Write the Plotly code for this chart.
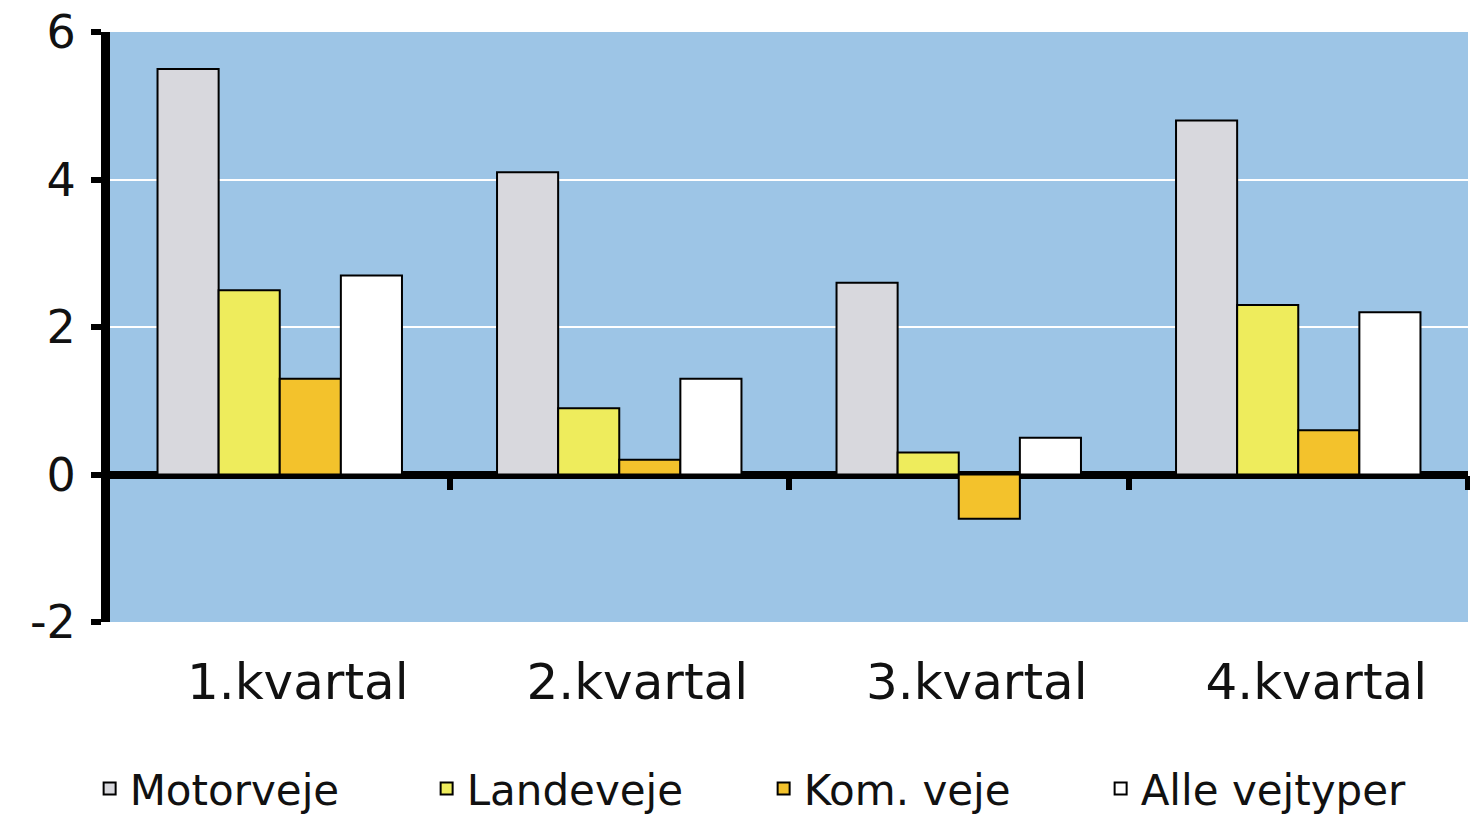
import plotly.graph_objects as go

categories = ["1.kvartal", "2.kvartal", "3.kvartal", "4.kvartal"]
motorveje = [5.5, 4.1, 2.6, 4.8]
landeveje = [2.5, 0.9, 0.3, 2.3]
kom_veje = [1.3, 0.2, -0.6, 0.6]
alle_vejtyper = [2.7, 1.3, 0.5, 2.2]
y_tick_values = [-2, 0, 2, 4, 6]
y_tick_labels = ["-2", "0", "2", "4", "6"]

series = [
    ("Motorveje", motorveje, "#d8d8dd"),
    ("Landeveje", landeveje, "#eeec5c"),
    ("Kom. veje", kom_veje, "#f3c22c"),
    ("Alle vejtyper", alle_vejtyper, "#ffffff"),
]

FONT = "DejaVu Sans"

fig = go.Figure()
for name, vals, col in series:
    fig.add_trace(go.Bar(
        x=categories, y=vals, name=name,
        marker=dict(color=col, line=dict(color="#000000", width=2)),
    ))

# invisible trace on a second x axis to carry boundary ticks along the zero line
fig.add_trace(go.Scatter(x=[0], y=[0], xaxis="x2", yaxis="y",
                         mode="markers", marker=dict(opacity=0),
                         showlegend=False, hoverinfo="skip"))

fig.update_layout(
    width=1470, height=814,
    margin=dict(l=110, r=2, t=32, b=192, autoexpand=False),
    paper_bgcolor="#ffffff",
    plot_bgcolor="#9dc5e6",
    barmode="group",
    bargap=0.28,
    bargroupgap=0,
    font=dict(family=FONT, color="#111111"),
    showlegend=True,
    legend=dict(
        orientation="h", x=-0.015, xanchor="left", y=-0.225, yanchor="top",
        font=dict(family=FONT, size=42, color="#111111"),
        entrywidth=292, entrywidthmode="pixels", traceorder="normal",
        bgcolor="rgba(0,0,0,0)",
    ),
    xaxis=dict(
        type="category", range=[-0.5, 3.5],
        showgrid=False, showline=False, ticks="",
        tickfont=dict(family=FONT, size=50, color="#111111"),
        ticklabelstandoff=26, ticklabelshift=18,
    ),
    xaxis2=dict(
        overlaying="x", anchor="free", position=0.25,
        range=[-0.5, 3.5], tickmode="array", tickvals=[0.5, 1.5, 2.5, 3.5],
        ticks="outside", ticklen=14, tickwidth=6, tickcolor="#000000",
        showticklabels=False, showgrid=False, showline=False, zeroline=False,
    ),
    yaxis=dict(
        range=[-2, 6], tickmode="array",
        tickvals=y_tick_values, ticktext=y_tick_labels,
        showgrid=True, gridcolor="#ffffff", gridwidth=2,
        zeroline=True, zerolinecolor="#000000", zerolinewidth=8,
        showline=True, linecolor="#000000", linewidth=9,
        ticks="outside", ticklen=10, tickwidth=6, tickcolor="#000000",
        tickfont=dict(family=FONT, size=46, color="#111111"),
        ticklabelstandoff=6,
    ),
)

fig.write_html(
    "out.html",
    config={"displayModeBar": False},
    post_script="document.body.style.margin='0';document.body.style.overflow='hidden';",
)
